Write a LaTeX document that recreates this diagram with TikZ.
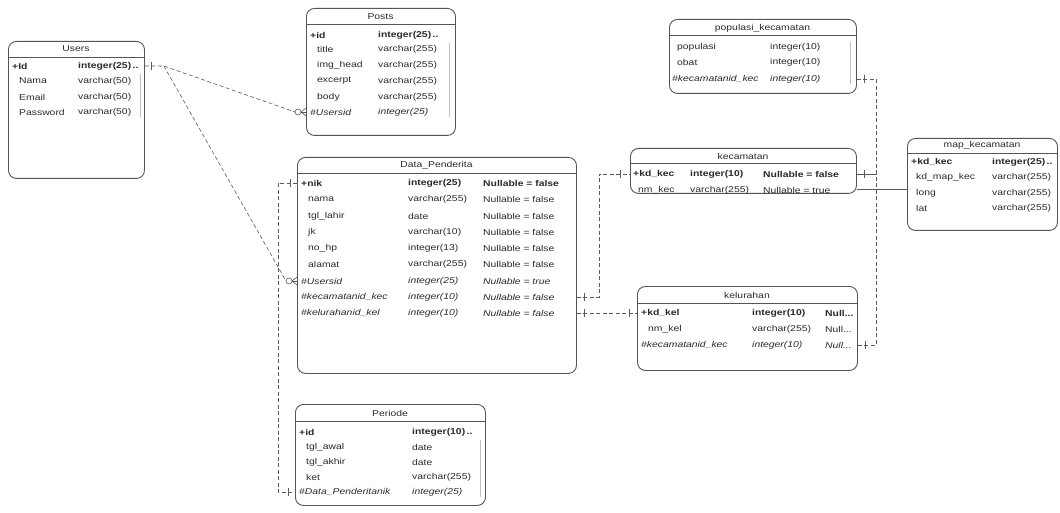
\documentclass[tikz,border=0pt]{standalone}
\usepackage{fontspec}
\newfontfamily\erfont[FakeStretch=1.22]{Liberation Sans}
\usetikzlibrary{calc}
\definecolor{bx}{HTML}{555555}
\definecolor{tx}{HTML}{2A2A2A}
\definecolor{ln}{HTML}{5A5A5A}
\newcommand\ertick[1]{\draw[tk] ($(#1)+(0,-4)$) -- ($(#1)+(0,4)$);}
\newcommand\ercrow[1]{%
  \draw[tk] ($(#1)+(-8,0)$) circle[radius=3pt];
  \draw[tk] ($(#1)+(-5,0)$) -- ($(#1)+(0,-4)$);
  \draw[tk] ($(#1)+(-5,0)$) -- (#1);
  \draw[tk] ($(#1)+(-5,0)$) -- ($(#1)+(0,4)$);}
\begin{document}
\begin{tikzpicture}[x=1pt,y=-1pt,
 tbl/.style={draw=bx, line width=0.9pt, rounded corners=8pt, fill=white, inner sep=0pt, anchor=north west},
 ttl/.style={font=\erfont\fontsize{8.5}{9}\selectfont, text=tx, inner sep=0pt},
 cell/.style={anchor=west, inner sep=0pt, font=\erfont\fontsize{8.5}{9}\selectfont, text=tx},
 pk/.style={cell, font=\erfont\bfseries\fontsize{8.5}{9}\selectfont},
 fk/.style={cell, font=\erfont\itshape\fontsize{8.5}{9}\selectfont},
 hdr/.style={draw=bx, line width=0.9pt},
 rel/.style={draw=ln, line width=0.6pt, dash pattern=on 4pt off 2.5pt},
 tk/.style={draw=ln, line width=0.6pt},
 trunc/.style={draw=black!25, line width=0.5pt}]
\fill[white] (0,0) rectangle (1060,513);
\useasboundingbox (0,0) rectangle (1060,513);

% ---------- Users
\node[tbl, minimum width=136pt, minimum height=137pt] (users) at (8,41) {};
\node[ttl] (usersT) at (76,49) {Users};
\draw[hdr] (8,57) -- (144,57);
\node[pk] (u1) at (12,66) {+Id};        \node[pk] (u1t) at (78,66) {integer(25)\,..};
\node[cell] (u2) at (19,81) {Nama};     \node[cell] (u2t) at (78,81) {varchar(50)};
\node[cell] (u3) at (19,97) {Email};    \node[cell] (u3t) at (78,97) {varchar(50)};
\node[cell] (u4) at (19,112) {Password};\node[cell] (u4t) at (78,112) {varchar(50)};
\draw[trunc] (140,74) -- (140,117);

% ---------- Posts
\node[tbl, minimum width=149pt, minimum height=127pt] (posts) at (306,8) {};
\node[ttl] (postsT) at (380.5,17) {Posts};
\draw[hdr] (306,24) -- (455,24);
\node[pk] (p1) at (310,35) {+id};          \node[pk] (p1t) at (378,35) {integer(25)\,..};
\node[cell] (p2) at (317,49) {title};      \node[cell] (p2t) at (378,49) {varchar(255)};
\node[cell] (p3) at (317,65) {img\_head};  \node[cell] (p3t) at (378,65) {varchar(255)};
\node[cell] (p4) at (317,81) {excerpt};    \node[cell] (p4t) at (378,81) {varchar(255)};
\node[cell] (p5) at (317,97) {body};       \node[cell] (p5t) at (378,97) {varchar(255)};
\node[fk] (p6) at (310,112) {\#Usersid};   \node[fk] (p6t) at (378,112) {integer(25)};
\draw[trunc] (449,43) -- (449,117);

% ---------- Data_Penderita
\node[tbl, minimum width=279pt, minimum height=216pt] (dp) at (297,157) {};
\node[ttl] (dpT) at (436.5,165) {Data\_Penderita};
\draw[hdr] (297,173) -- (576,173);
\node[pk] (d1) at (301,183) {+nik};        \node[pk] (d1t) at (408,183) {integer(25)};   \node[pk] (d1n) at (483,183) {Nullable = false};
\node[cell] (d2) at (308,199) {nama};      \node[cell] (d2t) at (408,199) {varchar(255)}; \node[cell] (d2n) at (483,199) {Nullable = false};
\node[cell] (d3) at (308,216) {tgl\_lahir};\node[cell] (d3t) at (408,216) {date};         \node[cell] (d3n) at (483,216) {Nullable = false};
\node[cell] (d4) at (308,232) {jk};        \node[cell] (d4t) at (408,232) {varchar(10)};  \node[cell] (d4n) at (483,232) {Nullable = false};
\node[cell] (d5) at (308,248) {no\_hp};    \node[cell] (d5t) at (408,248) {integer(13)};  \node[cell] (d5n) at (483,248) {Nullable = false};
\node[cell] (d6) at (308,264) {alamat};    \node[cell] (d6t) at (408,264) {varchar(255)}; \node[cell] (d6n) at (483,264) {Nullable = false};
\node[fk] (d7) at (301,281) {\#Usersid};   \node[fk] (d7t) at (408,281) {integer(25)};    \node[fk] (d7n) at (483,281) {Nullable = true};
\node[fk] (d8) at (301,297) {\#kecamatanid\_kec}; \node[fk] (d8t) at (408,297) {integer(10)}; \node[fk] (d8n) at (483,297) {Nullable = false};
\node[fk] (d9) at (301,313) {\#kelurahanid\_kel}; \node[fk] (d9t) at (408,313) {integer(10)}; \node[fk] (d9n) at (483,313) {Nullable = false};

% ---------- Periode
\node[tbl, minimum width=190pt, minimum height=101pt] (per) at (295,404) {};
\node[ttl] (perT) at (390,413) {Periode};
\draw[hdr] (295,421) -- (485,421);
\node[pk] (e1) at (299,432) {+id};          \node[pk] (e1t) at (412,432) {integer(10)\,..};
\node[cell] (e2) at (306,447) {tgl\_awal};  \node[cell] (e2t) at (412,447) {date};
\node[cell] (e3) at (306,462) {tgl\_akhir}; \node[cell] (e3t) at (412,462) {date};
\node[cell] (e4) at (306,477) {ket};        \node[cell] (e4t) at (412,477) {varchar(255)};
\node[fk] (e5) at (299,492) {\#Data\_Penderitanik}; \node[fk] (e5t) at (412,492) {integer(25)};
\draw[trunc] (480,440) -- (480,497);

% ---------- populasi_kecamatan
\node[tbl, minimum width=187pt, minimum height=74pt] (pop) at (669,19) {};
\node[ttl] (popT) at (762.5,28) {populasi\_kecamatan};
\draw[hdr] (669,35) -- (856,35);
\node[cell] (q1) at (677,47) {populasi};   \node[cell] (q1t) at (770,47) {integer(10)};
\node[cell] (q2) at (677,62) {obat};       \node[cell] (q2t) at (770,62) {integer(10)};
\node[fk] (q3) at (672,79) {\#kecamatanid\_kec}; \node[fk] (q3t) at (770,79) {integer(10)};
\draw[trunc] (850,42) -- (850,84);

% ---------- kecamatan
\node[tbl, minimum width=226pt, minimum height=45pt] (kec) at (630,148) {};
\node[ttl] (kecT) at (743,156) {kecamatan};
\draw[hdr] (630,163) -- (856,163);
\node[pk] (k1) at (633,174) {+kd\_kec};    \node[pk] (k1t) at (690,174) {integer(10)};   \node[pk] (k1n) at (763,174) {Nullable = false};
\node[cell] (k2) at (638,190) {nm\_kec};   \node[cell] (k2t) at (690,190) {varchar(255)}; \node[cell] (k2n) at (763,190) {Nullable = true};

% ---------- kelurahan
\node[tbl, minimum width=220pt, minimum height=84pt] (kel) at (637,286) {};
\node[ttl] (kelT) at (747,295) {kelurahan};
\draw[hdr] (637,303) -- (857,303);
\node[pk] (l1) at (641,313) {+kd\_kel};    \node[pk] (l1t) at (752,313) {integer(10)};   \node[pk] (l1n) at (825,313) {Null...};
\node[cell] (l2) at (648,329) {nm\_kel};   \node[cell] (l2t) at (752,329) {varchar(255)}; \node[cell] (l2n) at (825,329) {Null...};
\node[fk] (l3) at (641,345) {\#kecamatanid\_kec}; \node[fk] (l3t) at (752,345) {integer(10)}; \node[fk] (l3n) at (825,345) {Null...};

% ---------- map_kecamatan
\node[tbl, minimum width=150pt, minimum height=92pt] (map) at (907,138) {};
\node[ttl] (mapT) at (982,145) {map\_kecamatan};
\draw[hdr] (907,153) -- (1057,153);
\node[pk] (m1) at (911,162) {+kd\_kec};     \node[pk] (m1t) at (992,162) {integer(25)\,..};
\node[cell] (m2) at (916,177) {kd\_map\_kec};\node[cell] (m2t) at (992,177) {varchar(255)};
\node[cell] (m3) at (916,193) {long};       \node[cell] (m3t) at (992,193) {varchar(255)};
\node[cell] (m4) at (916,208) {lat};        \node[cell] (m4t) at (992,208) {varchar(255)};

% ---------- relationships
% Users -> Posts
\draw[rel] (users.east |- u1) -- ++(19,0) coordinate (uj) -- ($(posts.west |- p6)+(-11,0)$);
\ertick{$(users.east |- u1)+(6,0)$}
\ercrow{posts.west |- p6}
% Users -> Data_Penderita
\draw[rel] (uj) -- ($(dp.west |- d7)+(-11,0)$);
\ercrow{dp.west |- d7}
% Data_Penderita -> Periode
\draw[rel] (dp.west |- d1) -- ++(-19,0) |- (per.west |- e5);
\ertick{$(dp.west |- d1)+(-7,0)$}
\ertick{$(per.west |- e5)+(-7,0)$}
% Data_Penderita -> kecamatan
\draw[rel] (dp.east |- d8) -- ++(22,0) |- (kec.west |- k1);
\ertick{$(dp.east |- d8)+(7,0)$}
\ertick{$(kec.west |- k1)+(-10,0)$}
% Data_Penderita -> kelurahan
\draw[rel] (dp.east |- d9) -- (kel.west |- l1);
\ertick{$(dp.east |- d9)+(7,0)$}
\ertick{$(kel.west |- l1)+(-8,0)$}
% populasi_kecamatan -> kecamatan
\draw[rel] (pop.east |- q3) -- ++(19,0) |- (kec.east |- k1);
\ertick{$(pop.east |- q3)+(7,0)$}
\ertick{$(kec.east |- k1)+(7,0)$}
% kelurahan -> kecamatan
\draw[rel] (kel.east |- l3) -- ++(18,0) |- (kec.east |- k1);
\ertick{$(kel.east |- l3)+(7,0)$}
% kecamatan -- map_kecamatan
\coordinate (sl) at ($(kec.south east)+(0,-4)$);
\draw[draw=ln, line width=0.8pt] (sl) -- (sl -| map.west);
\end{tikzpicture}
\end{document}
